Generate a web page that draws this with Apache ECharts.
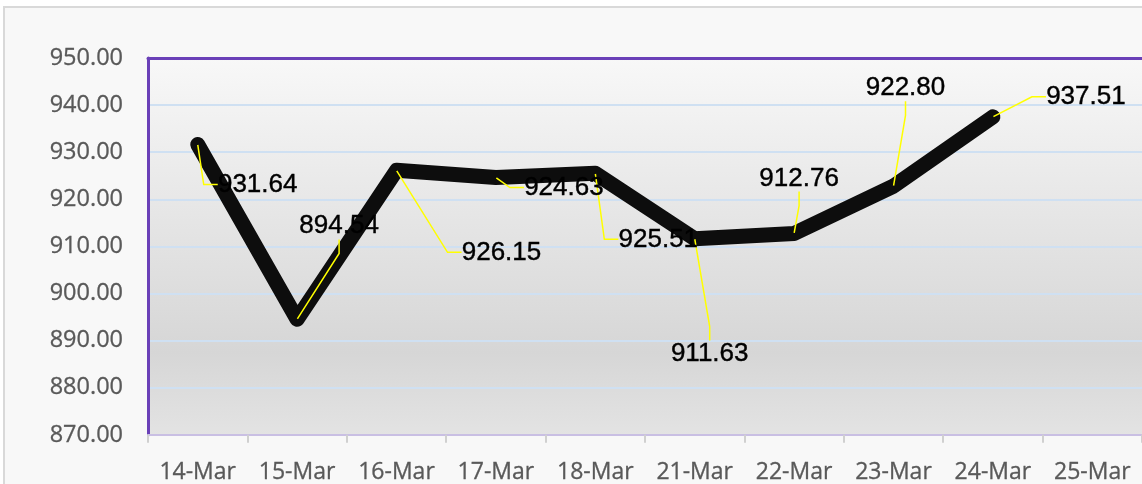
<!DOCTYPE html>
<html>
<head>
<meta charset="utf-8">
<script src="https://cdn.jsdelivr.net/npm/echarts@6/dist/echarts.min.js"></script>
<style>
html,body{margin:0;padding:0;background:#ffffff;}
#chart{width:1142px;height:484px;}
</style>
</head>
<body>
<div id="chart"></div>
<script>
const categories = ['14-Mar','15-Mar','16-Mar','17-Mar','18-Mar','21-Mar','22-Mar','23-Mar','24-Mar','25-Mar'];
const values = [931.64, 894.54, 926.15, 924.63, 925.51, 911.63, 912.76, 922.80, 937.51, null];
const yMin = 870, yMax = 950, yStep = 10;

// label offsets (pixels from point to label centre)
const labelOffsets = [[60,40],[42,-93],[105,82],[68,10],[63,66],[15,115],[5,-55],[12,-98],[93,-20],[0,0]];

const chart = echarts.init(document.getElementById('chart'));
chart.setOption({
  backgroundColor: '#ffffff',
  animation: false,
  graphic: [{
    type: 'rect', z: -10,
    shape: {x: 4, y: 7, width: 1150, height: 490},
    style: {fill: '#f8f8f8', stroke: '#d9d9d9', lineWidth: 2}
  }],
  grid: {
    left: 148, top: 58, right: -3, bottom: 49,
    show: true, borderWidth: 0,
    backgroundColor: new echarts.graphic.LinearGradient(0, 0, 0, 1, [
      {offset: 0, color: '#f8f8f8'},
      {offset: 0.78, color: '#d6d6d6'},
      {offset: 1, color: '#e3e3e3'}
    ])
  },
  xAxis: [{
    type: 'category', data: categories, boundaryGap: true, position: 'bottom',
    axisLine: {show: true, lineStyle: {color: '#c9bfe3', width: 2}},
    axisTick: {show: true, alignWithLabel: false, interval: 0, length: 8, inside: false, lineStyle: {color: '#d0d0d0', width: 2}},
    axisLabel: {color: '#595959', fontFamily: 'Open Sans', fontSize: 23, margin: 26, interval: 0,
      textBorderColor: '#595959', textBorderWidth: 0.3},
    splitLine: {show: false}
  }, {
    type: 'category', data: categories, position: 'top',
    axisLine: {show: true, lineStyle: {color: '#6a40b8', width: 3}},
    axisTick: {show: false}, axisLabel: {show: false}, splitLine: {show: false}
  }],
  yAxis: {
    type: 'value', min: yMin, max: yMax, interval: yStep,
    axisLine: {show: true, lineStyle: {color: '#6a40b8', width: 3}},
    axisTick: {show: false},
    axisLabel: {color: '#595959', fontFamily: 'Open Sans', fontSize: 23.5, margin: 25,
      textBorderColor: '#595959', textBorderWidth: 0.3,
      formatter: v => v.toFixed(2)},
    splitLine: {show: true, lineStyle: {color: '#cfe0f2', width: 2}}
  },
  series: [{
    type: 'line',
    data: values,
    xAxisIndex: 0,
    symbol: 'circle', symbolSize: 1, showSymbol: true,
    itemStyle: {color: '#0d0d0d'},
    lineStyle: {color: '#0d0d0d', width: 15, cap: 'round', join: 'round'},
    label: {
      show: true, position: 'inside', color: '#000000',
      fontFamily: 'Liberation Sans', fontSize: 26,
      textBorderColor: '#000000', textBorderWidth: 0.4,
      formatter: p => p.value == null ? '' : Number(p.value).toFixed(2)
    },
    labelLine: {show: true, length2: 14, lineStyle: {color: '#ffff00', width: 1.5}},
    labelLayout: function (params) {
      const o = labelOffsets[params.dataIndex] || [0, 0];
      return {dx: o[0], dy: o[1]};
    },
    z: 5
  }]
});
</script>
</body>
</html>
